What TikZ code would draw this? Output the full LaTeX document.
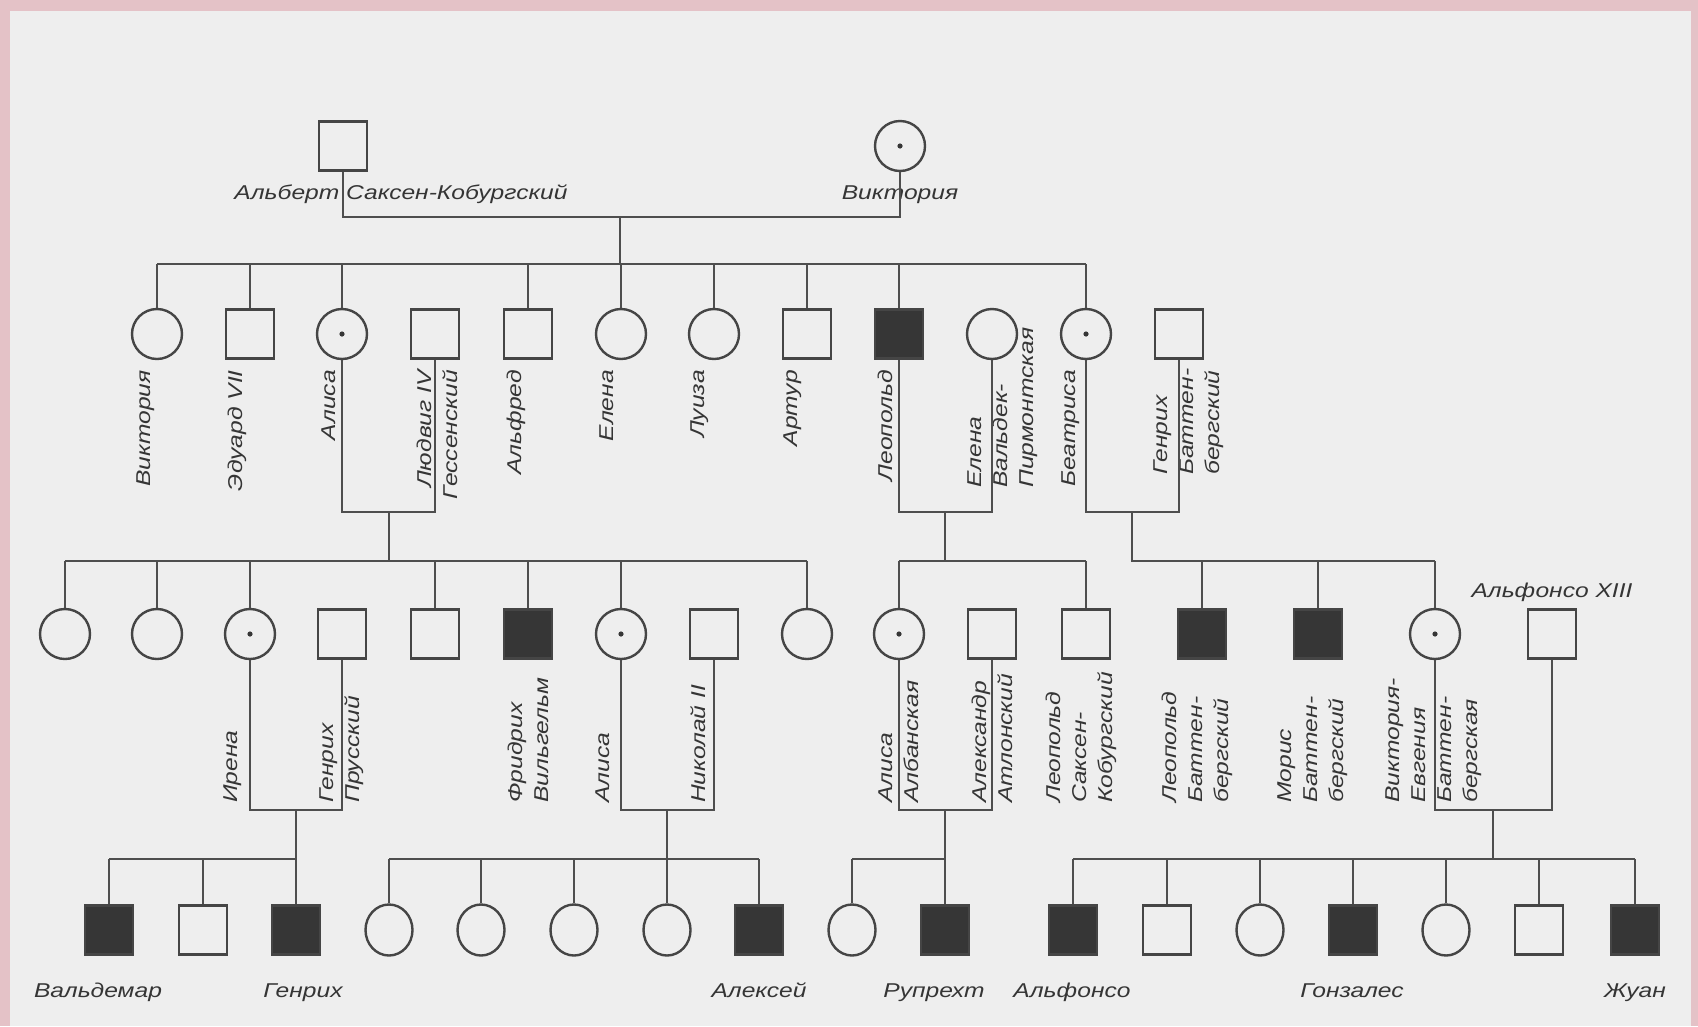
\documentclass[tikz,border=0pt]{standalone}
\usepackage{fontspec}
\usetikzlibrary{shapes.geometric}
\newfontfamily\labfont{Liberation Sans}[FakeStretch=1.23]
\newcommand\labtext{\labfont\itshape\fontsize{20pt}{26pt}\selectfont}
\definecolor{bgc}{HTML}{EEEEEE}
\definecolor{pinkc}{HTML}{E4C2C7}
\definecolor{lncol}{HTML}{4E4E4E}
\definecolor{shcol}{HTML}{454545}
\definecolor{fillc}{HTML}{363636}
\definecolor{txtc}{HTML}{353535}
\tikzset{
 lnk/.style={draw=lncol, line width=1.6pt},
 shp/.style={draw=shcol, line width=2.4pt, inner sep=0pt, fill=bgc},
 sqr/.style={shp, rectangle, minimum width=48pt, minimum height=49pt},
 sqf/.style={sqr, fill=fillc},
 crc/.style={shp, circle, minimum size=50pt},
 crd/.style={crc, path picture={\fill[fillc] (path picture bounding box.center) circle (2.6pt);}},
 ovl/.style={shp, ellipse, minimum width=47pt, minimum height=51pt},
 txt/.style={font=\labtext, text=txtc, inner sep=0pt},
 hlb/.style={txt, anchor=base},
 lbt/.style={txt, rotate=90, anchor=east, align=right},
 lbb/.style={txt, rotate=90, anchor=west, align=left},
}
\begin{document}
\begin{tikzpicture}[x=1pt,y=-1pt]
\fill[pinkc] (0,0) rectangle (1698,1026);
\fill[bgc] (10,11) rectangle (1691,1026);
\useasboundingbox (0,0) rectangle (1698,1026);

% Generation I
\node[sqr] (alb) at (343,146) {};
\node[crd] (vic) at (900,146) {};
\node[hlb] (talb) at (401,199) {Альберт Саксен-Кобургский};
\node[hlb] (tvic) at (900,199) {Виктория};

% Generation II
\foreach \n/\x/\s in {v2/157/crc, ed/250/sqr, al2/342/crd, lud/435/sqr, alf/528/sqr, el2/621/crc, lu/714/crc, ar/807/sqr, leo/899/sqf, elw/992/crc, bea/1086/crd, hb/1179/sqr}
  \node[\s] (\n) at (\x,334) {};

\node[lbt] (tv2) at (146,370) {Виктория};
\node[lbt] (ted) at (237,370) {Эдуард VII};
\node[lbt] (tal2) at (329,370) {Алиса};
\node[lbt] (tlud) at (437,370) {Людвиг IV\\Гессенский};
\node[lbt] (talf) at (516,370) {Альфред};
\node[lbt] (tel2) at (607,370) {Елена};
\node[lbt] (tlu) at (700,370) {Луиза};
\node[lbt] (tar) at (793,370) {Артур};
\node[lbt] (tleo) at (885,370) {Леопольд};
\node[lbb] (telw) at (1003,488) {Елена\\Вальдек-\\Пирмонтская};
\node[lbt] (tbea) at (1071,370) {Беатриса};
\node[lbb] (thb) at (1189,475) {Генрих\\Баттен-\\бергский};

% Generation III
\foreach \n/\x/\s in {g3a/65/crc, g3b/157/crc, ire/250/crd, hp/342/sqr, g3e/435/sqr, fw/528/sqf, al3/621/crd, nik/714/sqr, g3i/807/crc, ala/899/crd, alx/992/sqr, lsk/1086/sqr, lbg/1202/sqf, mor/1318/sqf, ve/1435/crd, alfo/1552/sqr}
  \node[\s] (\n) at (\x,634) {};

\node[lbb] (tire) at (233,803) {Ирена};
\node[lbb] (thp) at (342,803) {Генрих\\Прусский};
\node[lbb] (tfw) at (528,803) {Фридрих\\Вильгельм};
\node[lbb] (tal3) at (603,803) {Алиса};
\node[lbb] (tnik) at (698,803) {Николай II};
\node[lbb] (tala) at (899,803) {Алиса\\Албанская};
\node[lbb] (talx) at (992,803) {Александр\\Атлонский};
\node[lbb] (tlsk) at (1081,803) {Леопольд\\Саксен-\\Кобургский};
\node[lbb] (tlbg) at (1197,803) {Леопольд\\Баттен-\\бергский};
\node[lbb] (tmor) at (1313,803) {Морис\\Баттен-\\бергский};
\node[lbb] (tve) at (1434,803) {Виктория-\\Евгения\\Баттен-\\бергская};
\node[hlb] (talfo) at (1552,597) {Альфонсо XIII};

% Generation IV
\foreach \n/\x/\s in {wal/109/sqf, g4b/203/sqr, hen/296/sqf, d1/389/ovl, d2/481/ovl, d3/574/ovl, d4/667/ovl, alek/759/sqf, d5/852/ovl, rup/945/sqf, alfs/1073/sqf, g4k/1167/sqr, d6/1260/ovl, gon/1353/sqf, d7/1446/ovl, g4n/1539/sqr, zhu/1635/sqf}
  \node[\s] (\n) at (\x,930) {};

\node[hlb] (twal) at (98,997) {Вальдемар};
\node[hlb] (then) at (303,997) {Генрих};
\node[hlb] (talek) at (759,997) {Алексей};
\node[hlb] (trup) at (934,997) {Рупрехт};
\node[hlb] (talfs) at (1072,997) {Альфонсо};
\node[hlb] (tgon) at (1352,997) {Гонзалес};
\node[hlb] (tzhu) at (1635,997) {Жуан};

% Connectors: generation I
\coordinate (m0) at (620,217); \coordinate (s0) at (620,264);
\draw[lnk] (alb) -- (alb |- m0) -- (vic |- m0) -- (vic);
\draw[lnk] (m0) -- (s0);
\draw[lnk] (v2 |- s0) -- (bea |- s0);
\foreach \n in {v2,ed,al2,alf,el2,lu,ar,leo,bea} \draw[lnk] (\n) -- (\n |- s0);

% Connectors: generation II
\coordinate (m1) at (389,512); \coordinate (s1) at (389,561);
\draw[lnk] (al2) -- (al2 |- m1) -- (lud |- m1) -- (lud);
\draw[lnk] (m1) -- (s1);
\draw[lnk] (g3a |- s1) -- (g3i |- s1);
\foreach \n in {g3a,g3b,ire,g3e,fw,al3,g3i} \draw[lnk] (\n) -- (\n |- s1);

\coordinate (m2) at (945,512); \coordinate (s2) at (945,561);
\draw[lnk] (leo) -- (leo |- m2) -- (elw |- m2) -- (elw);
\draw[lnk] (m2) -- (s2);
\draw[lnk] (ala |- s2) -- (lsk |- s2);
\foreach \n in {ala,lsk} \draw[lnk] (\n) -- (\n |- s2);

\coordinate (m3) at (1132,512); \coordinate (s3) at (1132,561);
\draw[lnk] (bea) -- (bea |- m3) -- (hb |- m3) -- (hb);
\draw[lnk] (m3) -- (s3) -- (ve |- s3);
\foreach \n in {lbg,mor,ve} \draw[lnk] (\n) -- (\n |- s3);

% Connectors: generation III
\coordinate (m4) at (296,810); \coordinate (s4) at (296,859);
\draw[lnk] (ire) -- (ire |- m4) -- (hp |- m4) -- (hp);
\draw[lnk] (m4) -- (hen);
\draw[lnk] (wal |- s4) -- (s4);
\foreach \n in {wal,g4b} \draw[lnk] (\n) -- (\n |- s4);

\coordinate (m5) at (667,810); \coordinate (s5) at (667,859);
\draw[lnk] (al3) -- (al3 |- m5) -- (nik |- m5) -- (nik);
\draw[lnk] (m5) -- (d4);
\draw[lnk] (d1 |- s5) -- (alek |- s5);
\foreach \n in {d1,d2,d3,alek} \draw[lnk] (\n) -- (\n |- s5);

\coordinate (m6) at (945,810); \coordinate (s6) at (945,859);
\draw[lnk] (ala) -- (ala |- m6) -- (alx |- m6) -- (alx);
\draw[lnk] (m6) -- (rup);
\draw[lnk] (d5 |- s6) -- (s6);
\draw[lnk] (d5) -- (d5 |- s6);

\coordinate (m7) at (1493,810); \coordinate (s7) at (1493,859);
\draw[lnk] (ve) -- (ve |- m7) -- (alfo |- m7) -- (alfo);
\draw[lnk] (m7) -- (s7);
\draw[lnk] (alfs |- s7) -- (zhu |- s7);
\foreach \n in {alfs,g4k,d6,gon,d7,g4n,zhu} \draw[lnk] (\n) -- (\n |- s7);
\end{tikzpicture}
\end{document}
